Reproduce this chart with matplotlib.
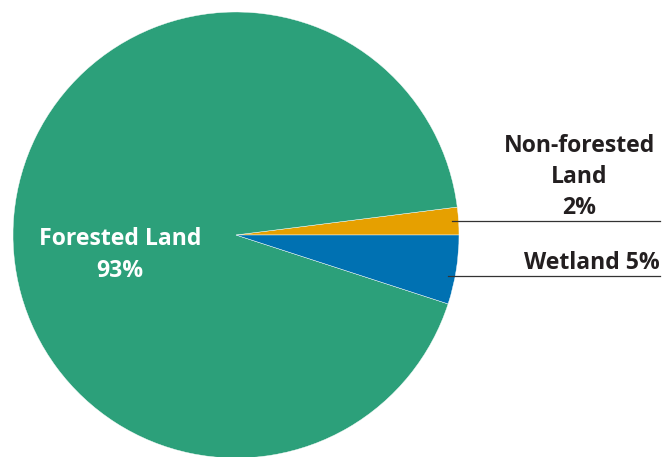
import matplotlib
matplotlib.use("Agg")
import matplotlib.pyplot as plt

# pie data (counterclockwise from 3 o'clock)
categories = ["Non-forested Land", "Forested Land", "Wetland"]
shares = [2, 93, 5]
colors = ["#e6a000", "#2ca07a", "#0071b2"]

W, H = 662, 457
TEXT = "#231f20"

fig = plt.figure(figsize=(W / 100, H / 100), dpi=100)
ax = fig.add_axes([0, 0, 1, 1])

ax.pie(
    shares,
    colors=colors,
    startangle=0,
    counterclock=True,
    center=(236, H - 235),
    radius=223,
    wedgeprops=dict(edgecolor="white", linewidth=0.3),
    frame=True,
)
ax.set_xlim(0, W)
ax.set_ylim(0, H)
ax.set_aspect("equal")
ax.axis("off")

font = dict(family="Open Sans", weight="bold", fontsize=16.6)

ax.text(120, H - 255, f"Forested Land\n{shares[1]}%", color="white",
        ha="center", va="center", linespacing=1.4, **font)
ax.text(579, H - 177, f"Non-forested\nLand\n{shares[0]}%", color=TEXT,
        ha="center", va="center", linespacing=1.4, **font)
ax.text(660, H - 263, f"Wetland {shares[2]}%", color=TEXT,
        ha="right", va="center", **font)

# leader lines
ax.plot([452, 660], [H - 221, H - 221], color="#333333", lw=0.9)
ax.plot([448, 660], [H - 276, H - 276], color="#333333", lw=0.9)

fig.savefig("out.png", dpi=100)
